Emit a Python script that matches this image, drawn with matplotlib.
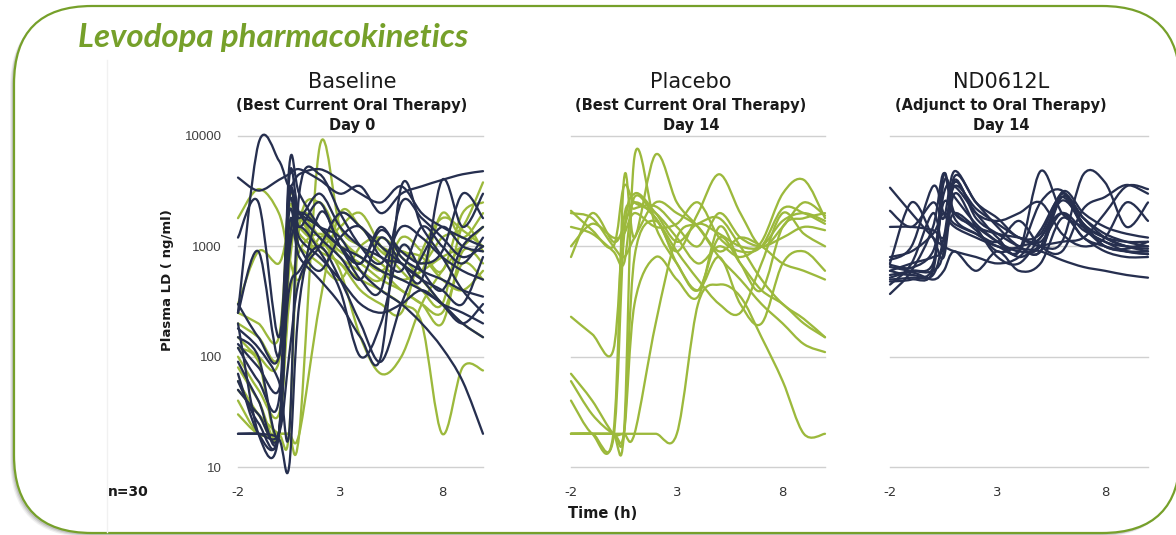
import numpy as np
import matplotlib
matplotlib.use('Agg')
import matplotlib.pyplot as plt
from matplotlib.path import Path
from matplotlib.patches import PathPatch, FancyBboxPatch
from matplotlib.transforms import IdentityTransform
from matplotlib.lines import Line2D

# sampling times (h) shared by every profile
times = [-2, -1, 0, 0.5, 1, 2, 3, 4, 5, 6, 7, 8, 9, 10]

# Baseline (Day 0) - subjects later on ND0612L (navy)
baseline_nd = [
    [250, 8500, 6000, 3500, 4500, 5000, 4000, 3000, 2500, 3500, 2000, 1500, 1200, 1000],
    [4200, 3200, 4000, 4500, 5000, 4000, 3000, 3500, 2000, 3000, 3500, 4000, 4500, 4800],
    [1200, 2500, 150, 3000, 2000, 1500, 1000, 700, 1500, 800, 600, 500, 400, 350],
    [250, 900, 100, 2500, 1200, 800, 500, 300, 250, 300, 400, 300, 250, 200],
    [200, 20, 20, 5000, 3000, 1500, 1000, 800, 600, 500, 400, 300, 200, 150],
    [180, 120, 60, 20, 3000, 4500, 2000, 1000, 700, 1500, 1200, 800, 600, 500],
    [150, 100, 20, 1500, 800, 500, 300, 150, 100, 3500, 1500, 800, 400, 250],
    [130, 80, 50, 400, 600, 1000, 500, 200, 90, 300, 800, 1500, 1000, 900],
    [70, 20, 20, 1000, 2000, 1500, 1200, 600, 400, 300, 200, 120, 60, 20],
    [20, 20, 20, 100, 500, 1000, 2000, 1500, 1000, 700, 500, 300, 200, 300],
    [20, 20, 18, 10, 300, 2000, 1000, 500, 400, 2500, 1800, 1200, 800, 1000],
    [50, 30, 20, 800, 1500, 900, 400, 100, 200, 1000, 600, 400, 1000, 1500],
    [300, 150, 100, 2000, 1000, 600, 1200, 1500, 800, 700, 500, 4000, 1500, 3000],
    [120, 60, 40, 3000, 1500, 2500, 1000, 700, 1400, 900, 700, 900, 3000, 1800],
    [90, 40, 20, 4000, 2000, 1200, 800, 500, 1200, 700, 500, 400, 300, 800],
    [60, 25, 20, 2500, 1800, 3000, 1500, 1000, 800, 600, 1500, 1000, 700, 1200],
]

# Baseline (Day 0) - subjects later on placebo (green)
baseline_pl = [
    [1800, 3300, 2000, 800, 500, 1200, 1000, 800, 600, 900, 700, 1200, 1500, 3800],
    [40, 20, 20, 20, 20, 8000, 1500, 1000, 700, 500, 600, 800, 1000, 1500],
    [30, 20, 20, 20, 20, 300, 2000, 1500, 1000, 800, 500, 300, 200, 150],
    [300, 900, 700, 1500, 2000, 1200, 600, 150, 70, 100, 300, 600, 1000, 1500],
    [120, 90, 20, 2500, 1500, 1000, 700, 500, 400, 300, 200, 20, 80, 75],
    [50, 30, 20, 20, 1500, 2500, 1200, 800, 600, 400, 300, 200, 900, 700],
    [200, 150, 100, 1200, 1800, 1000, 2000, 1500, 900, 700, 600, 2000, 1200, 2000],
    [80, 40, 20, 700, 2000, 1500, 800, 600, 500, 1200, 900, 600, 2000, 2500],
    [150, 100, 90, 1500, 1000, 700, 500, 1000, 1200, 900, 800, 500, 400, 600],
    [250, 200, 150, 2200, 1300, 900, 700, 400, 300, 250, 900, 1800, 1400, 1000],
    [60, 30, 20, 600, 1800, 1000, 1500, 2000, 1000, 600, 400, 300, 1500, 900],
    [100, 50, 30, 300, 900, 1300, 900, 700, 500, 400, 300, 250, 700, 500],
]

# Placebo, Day 14
placebo = [
    [2100, 1400, 1000, 3500, 2500, 2000, 1200, 700, 1000, 800, 1100, 3000, 4000, 1800],
    [800, 2000, 1100, 1500, 2500, 1800, 900, 2000, 4500, 2000, 1000, 1500, 2500, 1900],
    [230, 160, 115, 1800, 2200, 2300, 1500, 1000, 2000, 1200, 1000, 1200, 1500, 1400],
    [70, 40, 20, 20, 6500, 1500, 700, 400, 1200, 700, 400, 300, 200, 150],
    [40, 20, 20, 4000, 1200, 6800, 2500, 1500, 800, 500, 300, 200, 130, 110],
    [20, 20, 20, 20, 20, 20, 20, 300, 450, 350, 150, 60, 20, 20],
    [2000, 1800, 1000, 800, 1200, 2500, 2000, 1500, 900, 1200, 1000, 700, 600, 500],
    [20, 20, 20, 20, 300, 800, 500, 350, 1500, 700, 400, 1500, 1800, 2000],
    [1500, 1300, 900, 700, 2800, 1800, 900, 500, 300, 250, 700, 2000, 1300, 1000],
    [20, 20, 18, 1200, 3000, 2000, 1100, 1600, 1300, 1000, 1000, 1700, 2000, 1700],
    [60, 30, 20, 20, 20, 200, 1200, 1600, 1800, 1000, 500, 300, 220, 150],
    [1000, 1600, 1200, 1300, 2000, 1500, 1600, 2500, 1200, 900, 1000, 2200, 2000, 1600],
    [20, 20, 20, 20, 800, 1700, 700, 400, 800, 300, 200, 700, 900, 600],
]

# ND0612L, Day 14
nd0612l = [
    [3400, 2000, 1200, 1000, 900, 800, 700, 800, 1400, 2800, 1500, 1000, 900, 900],
    [2100, 1500, 2500, 1800, 4800, 2500, 1800, 1200, 1300, 3000, 1800, 1200, 1000, 950],
    [1500, 1500, 1400, 1200, 2000, 1500, 1300, 1200, 1100, 2000, 1400, 1100, 900, 850],
    [750, 1000, 3500, 2000, 1500, 1200, 1000, 900, 2500, 3200, 1500, 1100, 1000, 1000],
    [650, 600, 600, 900, 4300, 2500, 1500, 1000, 900, 2800, 1800, 1300, 1100, 1000],
    [600, 550, 650, 4500, 2000, 1500, 1100, 900, 1000, 3000, 1600, 1200, 1000, 900],
    [550, 600, 700, 3000, 3500, 2000, 1200, 900, 4800, 2000, 1500, 1200, 1100, 1100],
    [500, 520, 550, 1200, 3500, 2200, 1600, 1200, 1000, 1100, 4500, 3800, 1500, 2500],
    [480, 500, 600, 3800, 2800, 1600, 1100, 800, 1000, 1100, 1200, 2000, 3500, 3300],
    [450, 700, 2000, 1000, 4000, 1800, 1300, 1000, 900, 3100, 2000, 1500, 1300, 1200],
    [370, 600, 1500, 4600, 1800, 1300, 1000, 950, 900, 750, 650, 600, 550, 520],
    [700, 2500, 1200, 800, 3000, 1500, 800, 700, 1200, 2000, 1200, 1000, 900, 850],
    [600, 700, 800, 1000, 3800, 2000, 1700, 2000, 2500, 1300, 1000, 1200, 2500, 1700],
    [520, 580, 500, 600, 900, 600, 900, 600, 700, 1800, 1200, 900, 800, 800],
    [800, 900, 1300, 2000, 1600, 1300, 1100, 1700, 1000, 900, 2200, 2800, 3600, 3000],
    [680, 640, 900, 2500, 2000, 1400, 900, 1000, 1200, 2600, 1600, 1000, 950, 1100],
]

titles = ['Baseline', 'Placebo', 'ND0612L']
subtitles = ['(Best Current Oral Therapy)', '(Best Current Oral Therapy)', '(Adjunct to Oral Therapy)']
days = ['Day 0', 'Day 14', 'Day 14']
x_ticks = [-2, 3, 8]
y_ticks = [10, 100, 1000, 10000]

NAVY = '#262f4f'
GREEN = '#9cb93c'
TITLE_GREEN = '#76a02a'
W, H = 1176, 535


def smooth_line(ax, t, v, color):
    '''Excel-like smoothed line: cubic Bezier through the samples (log space)'''
    x = np.asarray(t, float)
    y = np.log10(np.asarray(v, float))
    pts = np.column_stack([x, y])
    n = len(pts)
    verts = [pts[0]]
    codes = [Path.MOVETO]
    for i in range(n - 1):
        p0 = pts[max(i - 1, 0)]
        p1 = pts[i]
        p2 = pts[i + 1]
        p3 = pts[min(i + 2, n - 1)]
        verts += [p1 + (p2 - p0) / 6, p2 - (p3 - p1) / 6, p2]
        codes += [Path.CURVE4] * 3
    verts = np.array(verts)
    verts[:, 1] = 10 ** verts[:, 1]
    patch = PathPatch(Path(verts, codes), fill=False, edgecolor=color,
                      lw=1.65, capstyle='round', joinstyle='round', clip_on=False)
    ax.add_patch(patch)


fig = plt.figure(figsize=(W / 100, H / 100), dpi=100)

# rounded slide frame with a soft shadow at the lower left
frame_kw = dict(boxstyle='round,pad=0,rounding_size=78', transform=IdentityTransform())
for off, alpha in [(4, 0.12), (3, 0.2), (2, 0.3)]:
    fig.add_artist(FancyBboxPatch((14 - off, H - 533 - off), 1166, 527, facecolor='#888888',
                                  edgecolor='none', alpha=alpha, zorder=-3, **frame_kw))
fig.add_artist(FancyBboxPatch((14, H - 533), 1166, 527, facecolor='white',
                              edgecolor=TITLE_GREEN, lw=1.6, zorder=-2, **frame_kw))
fig.add_artist(Line2D([107 / W, 107 / W], [1 - 60 / H, 1 - 532 / H], color='#f1f1f1',
                      lw=1, zorder=-1))

fig.text(78 / W, 1 - 47 / H, 'Levodopa pharmacokinetics', color=TITLE_GREEN,
         fontsize=23.8, fontweight='bold', fontstyle='italic', family=['Lato', 'DejaVu Sans'],
         va='baseline', ha='left')

panels = [(238, 483, 352), (571, 825, 691), (890, 1148, 1001)]
groups = [[(baseline_pl, GREEN), (baseline_nd, NAVY)],
          [(placebo, GREEN)],
          [(nd0612l, NAVY)]]
top, bottom = 136, 467

for k, ((x0, x1, xc), series) in enumerate(zip(panels, groups)):
    ax = fig.add_axes([x0 / W, 1 - bottom / H, (x1 - x0) / W, (bottom - top) / H])
    ax.set_yscale('log')
    ax.set_xlim(-2, 10)
    ax.set_ylim(10, 10000)
    for data, color in series:
        for v in data:
            smooth_line(ax, times, v, color)

    ax.set_xticks(x_ticks)
    ax.set_xticklabels([str(t) for t in x_ticks])
    ax.set_yticks(y_ticks)
    ax.yaxis.set_minor_locator(matplotlib.ticker.NullLocator())
    if k == 0:
        ax.set_yticklabels([str(t) for t in y_ticks], family='Liberation Sans',
                           fontsize=9.5, color='#404040')
    else:
        ax.set_yticklabels([])
    ax.tick_params(axis='x', length=0, pad=14, labelsize=9.5, labelcolor='#333333')
    ax.tick_params(axis='y', length=0, pad=11.5)
    for s in ax.spines.values():
        s.set_visible(False)
    ax.grid(axis='y', color='#d0d0d0', lw=1)
    for gl in ax.get_ygridlines():
        gl.set_clip_on(False)
    ax.set_axisbelow(True)
    ax.patch.set_alpha(0)

    fig.text(xc / W, 1 - 88 / H, titles[k], fontsize=15, ha='center', va='baseline', color='#1a1a1a')
    fig.text(xc / W, 1 - 110 / H, subtitles[k], fontsize=10.5, fontweight='bold',
             ha='center', va='baseline', color='#1a1a1a')
    fig.text(xc / W, 1 - 130 / H, days[k], fontsize=10.5, fontweight='bold',
             ha='center', va='baseline', color='#1a1a1a')

fig.text(167 / W, 1 - 280 / H, 'Plasma LD ( ng/ml)', rotation=90, fontsize=9.5,
         fontweight='bold', ha='center', va='center', color='#1a1a1a')
fig.text(128 / W, 1 - 492 / H, 'n=30', fontsize=10, fontweight='bold',
         ha='center', va='center', color='#1a1a1a')
fig.text(603 / W, 1 - 514 / H, 'Time (h)', fontsize=10.5, fontweight='bold',
         ha='center', va='center', color='#1a1a1a')

fig.savefig('out.png', dpi=100)
